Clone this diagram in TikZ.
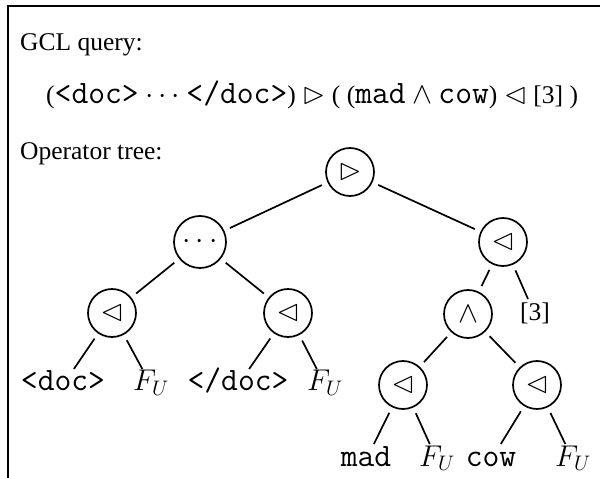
\RequirePackage{fix-cm}
\documentclass[tikz,border=0pt]{standalone}
\usepackage{fontspec}
\setmainfont{Liberation Serif}
\setmonofont[Scale=1.28]{Latin Modern Mono}
\usepackage{latexsym}
\DeclareMathSizes{25.5}{30}{21}{15}
\begin{document}
\begin{tikzpicture}[x=1pt,y=-1pt,
  every node/.style={font=\fontsize{25.5}{31}\selectfont},
  op/.style={circle, draw, minimum size=48pt, inner sep=0pt, outer sep=7pt, line width=1.7pt},
  leaf/.style={inner sep=1pt, outer sep=4pt, text height=17pt, text depth=5pt},
  lbl/.style={anchor=base west, inner sep=0pt},
  edge/.style={line width=1.7pt}]
\useasboundingbox (0,0) rectangle (600,478);
\draw[line width=2pt] (8,478) -- (8,6) -- (600,6);
\node[lbl] (t1) at (20,51) {GCL query:};
\node[lbl] (t2) at (46,104) {(\texttt{<doc>} $\cdots$ \texttt{</doc>}) $\rhd$ ( (\texttt{mad} $\wedge$ \texttt{cow}) $\lhd$ [3] )};
\node[lbl] (t3) at (20,160) {Operator tree:};
\node[op] (root) at (350,172) {$\rhd$};
\node[op, minimum size=52pt] (dots) at (200,242) {$\cdots$};
\node[op] (rl) at (503,242) {$\lhd$};
\node[op] (l1) at (112,313) {$\lhd$};
\node[op] (l2) at (288,313) {$\lhd$};
\node[op] (and) at (468,314) {$\wedge$};
\node[leaf] (three) at (535,315) {[3]};
\node[leaf] (doc) at (63,385) {\texttt{<doc>}};
\node[leaf] (fu1) at (151,385) {$F_U$};
\node[leaf] (edoc) at (238,385) {\texttt{</doc>}};
\node[leaf] (fu2) at (325,385) {$F_U$};
\node[op] (l3) at (403,385) {$\lhd$};
\node[op] (l4) at (537,385) {$\lhd$};
\node[leaf] (mad) at (366,460) {\texttt{mad}};
\node[leaf] (fu3) at (437,460) {$F_U$};
\node[leaf] (cow) at (491,460) {\texttt{cow}};
\node[leaf] (fu4) at (573,460) {$F_U$};
\draw[edge] (root) -- (dots);
\draw[edge] (root) -- (rl);
\draw[edge] (dots) -- (l1);
\draw[edge] (dots) -- (l2);
\draw[edge] (rl) -- (and);
\draw[edge] (rl) -- (three);
\draw[edge] (l1) -- (doc);
\draw[edge] (l1) -- (fu1);
\draw[edge] (l2) -- (edoc);
\draw[edge] (l2) -- (fu2);
\draw[edge] (and) -- (l3);
\draw[edge] (and) -- (l4);
\draw[edge] (l3) -- (mad);
\draw[edge] (l3) -- (fu3);
\draw[edge] (l4) -- (cow);
\draw[edge] (l4) -- (fu4);
\end{tikzpicture}
\end{document}
